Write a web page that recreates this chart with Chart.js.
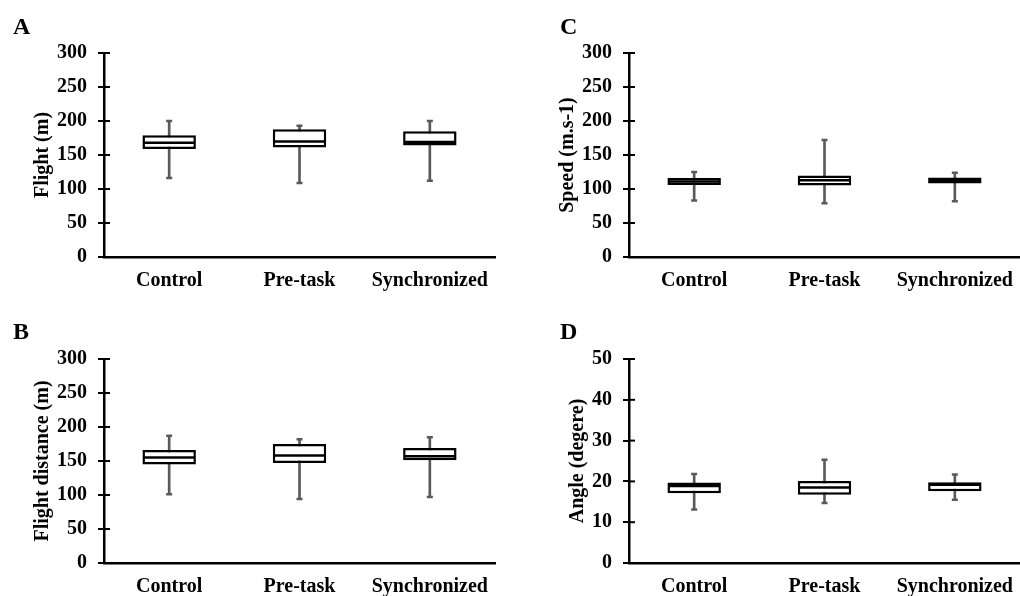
<!DOCTYPE html>
<html>
<head>
<meta charset="utf-8">
<script src="https://cdn.jsdelivr.net/npm/chart.js@4.4.0/dist/chart.umd.min.js"></script>
<style>
  body { margin: 0; background: #fff; }
  #wrap { position: relative; width: 1020px; height: 596px; overflow: hidden; background: #fff; }
  .panel { position: absolute; width: 510px; height: 298px; }
  .letter { position: absolute; font: bold 24px "Liberation Serif", "Times New Roman", serif; line-height: 1; color: #000; }
</style>
</head>
<body>
<div id="wrap">
  <div class="panel" style="left:0;top:0"><canvas id="chartA" width="510" height="298"></canvas></div>
  <div class="panel" style="left:510px;top:0"><canvas id="chartC" width="510" height="298"></canvas></div>
  <div class="panel" style="left:0;top:298px"><canvas id="chartB" width="510" height="298"></canvas></div>
  <div class="panel" style="left:510px;top:298px"><canvas id="chartD" width="510" height="298"></canvas></div>
  <div class="letter" style="left:13px;top:14px">A</div>
  <div class="letter" style="left:560px;top:14px">C</div>
  <div class="letter" style="left:13px;top:319px">B</div>
  <div class="letter" style="left:560px;top:319px">D</div>
</div>
<script>
// categories shared by the four panels
const categories = ['Control', 'Pre-task', 'Synchronized'];

// A - Flight (m)
const flightMin = [116, 109, 112];
const flightQ1 = [159, 161, 164];
const flightMedian = [168, 170, 169];
const flightQ3 = [179, 188, 185];
const flightMax = [200, 193, 200];

// B - Flight distance (m)
const distMin = [101, 94, 97];
const distQ1 = [145, 147, 151];
const distMedian = [155, 158, 157];
const distQ3 = [166, 175, 169];
const distMax = [187, 182, 185];

// C - Speed (m.s-1)
const speedMin = [83, 79, 82];
const speedQ1 = [106, 105, 108];
const speedMedian = [111, 113, 112];
const speedQ3 = [116, 120, 117];
const speedMax = [125, 172, 124];

// D - Angle (degere)
const angleMin = [13.1, 14.7, 15.5];
const angleQ1 = [17.1, 16.7, 17.6];
const angleMedian = [18.9, 18.5, 19.2];
const angleQ3 = [19.7, 20.1, 19.8];
const angleMax = [21.8, 25.3, 21.7];

const ticks300 = [0, 50, 100, 150, 200, 250, 300];
const ticks50 = [0, 10, 20, 30, 40, 50];

Chart.defaults.font.family = "'Liberation Serif', 'Times New Roman', serif";
Chart.defaults.color = '#000';

const whiskerColor = '#5a5a5a';

// small tick part on the inner side of the y axis (ticks cross the axis)
const innerTicks = {
    id: 'innerTicks',
    afterDraw(chart) {
        const y = chart.scales.y;
        const ctx = chart.ctx;
        ctx.save();
        ctx.strokeStyle = '#000';
        ctx.lineWidth = 2;
        y.ticks.forEach(t => {
            const py = y.getPixelForValue(t.value);
            ctx.beginPath();
            ctx.moveTo(y.right, py);
            ctx.lineTo(y.right + 6, py);
            ctx.stroke();
        });
        ctx.restore();
    }
};

function makeBoxChart(id, s) {
    const canvas = document.getElementById(id);
    return new Chart(canvas, {
        type: 'bar',
        data: {
            labels: categories,
            datasets: [
                {   // median
                    type: 'line', data: s.med, showLine: false,
                    pointStyle: 'line', pointRadius: 25, pointHoverRadius: 25,
                    pointBorderColor: '#000', pointBorderWidth: 2.5
                },
                {   // upper cap
                    type: 'line', data: s.max, showLine: false,
                    pointStyle: 'line', pointRadius: 3, pointHoverRadius: 3,
                    pointBorderColor: whiskerColor, pointBorderWidth: 2.5
                },
                {   // lower cap
                    type: 'line', data: s.min, showLine: false,
                    pointStyle: 'line', pointRadius: 3, pointHoverRadius: 3,
                    pointBorderColor: whiskerColor, pointBorderWidth: 2.5
                },
                {   // box q1-q3
                    data: s.q1.map((v, i) => [v, s.q3[i]]),
                    backgroundColor: '#fff', borderColor: '#000', borderWidth: 2.5,
                    borderSkipped: false, grouped: false,
                    barPercentage: 0.41, categoryPercentage: 1
                },
                {   // whisker min-max
                    data: s.min.map((v, i) => [v, s.max[i]]),
                    backgroundColor: whiskerColor, borderWidth: 0,
                    grouped: false, barThickness: 2
                }
            ]
        },
        options: {
            responsive: false,
            animation: false,
            events: [],
            layout: { autoPadding: false, padding: { top: s.top, right: s.right, left: 0, bottom: 0 } },
            plugins: { legend: { display: false }, tooltip: { enabled: false } },
            scales: {
                x: {
                    offset: true,
                    grid: { display: false, drawTicks: false },
                    border: { display: true, color: '#000', width: 2.5 },
                    ticks: { font: { size: 20, weight: 'bold' }, color: '#000', padding: 12, maxRotation: 0 },
                    afterFit(scale) {
                        scale.height = 298 - s.bottom;
                        scale.paddingLeft = 0;
                        scale.paddingRight = 0;
                    }
                },
                y: {
                    min: 0, max: s.tickVals[s.tickVals.length - 1],
                    afterBuildTicks(scale) { scale.ticks = s.tickVals.map(v => ({ value: v })); },
                    grid: { drawOnChartArea: false, drawTicks: true, tickLength: 6, color: '#000', lineWidth: 2 },
                    border: { display: true, color: '#000', width: 2.5 },
                    ticks: { font: { size: 20, weight: 'bold' }, color: '#000', padding: 11 },
                    title: {
                        display: true, text: s.title, color: '#000',
                        font: { size: 20, weight: 'bold' },
                        padding: { top: s.titleGap, bottom: 0 }
                    },
                    afterFit(scale) {
                        scale.width = s.axisWidth;
                        scale.paddingTop = 0;
                        scale.paddingBottom = 0;
                    }
                }
            }
        },
        plugins: [innerTicks]
    });
}

makeBoxChart('chartA', {
    min: flightMin, q1: flightQ1, med: flightMedian, q3: flightQ3, max: flightMax,
    tickVals: ticks300, title: 'Flight (m)',
    axisWidth: 104, titleGap: 31, top: 53, bottom: 257, right: 15
});
makeBoxChart('chartB', {
    min: distMin, q1: distQ1, med: distMedian, q3: distQ3, max: distMax,
    tickVals: ticks300, title: 'Flight distance (m)',
    axisWidth: 104, titleGap: 31, top: 61, bottom: 265, right: 15
});
makeBoxChart('chartC', {
    min: speedMin, q1: speedQ1, med: speedMedian, q3: speedQ3, max: speedMax,
    tickVals: ticks300, title: 'Speed (m.s-1)',
    axisWidth: 119, titleGap: 46, top: 53, bottom: 257, right: 0
});
makeBoxChart('chartD', {
    min: angleMin, q1: angleQ1, med: angleMedian, q3: angleQ3, max: angleMax,
    tickVals: ticks50, title: 'Angle (degere)',
    axisWidth: 119, titleGap: 56, top: 61, bottom: 265, right: 0
});
</script>
</body>
</html>
